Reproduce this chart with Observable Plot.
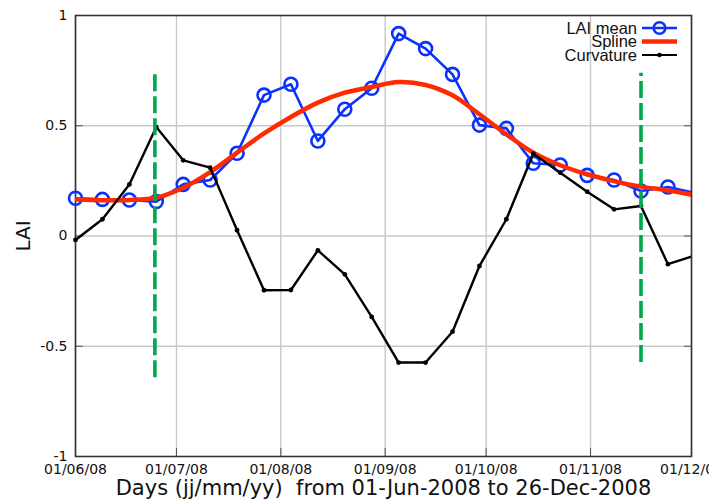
<!DOCTYPE html>
<html><head><meta charset="utf-8">
<script src="https://cdn.jsdelivr.net/npm/d3@7"></script>
<script src="https://cdn.jsdelivr.net/npm/@observablehq/plot@0.6"></script>
<style>
body{margin:0;background:#fff;}
#wrap{position:relative;width:709px;height:499px;overflow:hidden;background:#fff;}
#legend{position:absolute;left:0;top:0;pointer-events:none;}
</style></head><body><div id="wrap"></div>
<script>
// ---- data ----
const dates = ["2008-06-01","2008-06-09","2008-06-17","2008-06-25","2008-07-03","2008-07-11","2008-07-19","2008-07-27",
  "2008-08-04","2008-08-12","2008-08-20","2008-08-28","2008-09-05","2008-09-13","2008-09-21","2008-09-29",
  "2008-10-07","2008-10-15","2008-10-23","2008-10-31","2008-11-08","2008-11-16","2008-11-24","2008-12-02"];
const laiMean = [0.171,0.166,0.163,0.156,0.234,0.254,0.375,0.639,0.688,0.431,0.575,0.670,
  0.918,0.850,0.733,0.503,0.488,0.330,0.322,0.275,0.254,0.204,0.222,0.196];
const spline = [0.166,0.162,0.163,0.174,0.219,0.290,0.378,0.465,0.540,0.605,0.650,0.676,
  0.698,0.685,0.638,0.552,0.461,0.378,0.321,0.280,0.249,0.224,0.207,0.184];
const curvature = [-0.018,0.076,0.234,0.494,0.343,0.310,0.026,-0.246,-0.245,-0.065,-0.174,-0.367,
  -0.574,-0.574,-0.434,-0.136,0.076,0.373,0.287,0.201,0.121,0.136,-0.128,-0.089];
const eventDates = ["2008-06-24T14:00:00Z","2008-11-16T00:00:00Z"];
const eventTop = [0.744, 0.738];
const eventBottom = [-0.643, -0.574];
const monthTicks = ["2008-06-01","2008-07-01","2008-08-01","2008-09-01","2008-10-01","2008-11-01","2008-12-01"];
const yTicks = [-1, -0.5, 0, 0.5, 1];
const yInnerTicks = [-0.5, 0, 0.5];
const legendLabels = ["LAI mean", "Spline", "Curvature"];
const xLabel = "Days (jj/mm/yy)  from 01-Jun-2008 to 26-Dec-2008";
const yLabel = "LAI";

// ---- build ----
const BLUE = "#0a32ff", RED = "#ff2a00", GREEN = "#00a84a";
const rows = dates.map((d, i) => ({date: new Date(d), lai: laiMean[i], spline: spline[i], curv: curvature[i]}));
const xStart = new Date(monthTicks[0]), xEnd = new Date(monthTicks[monthTicks.length - 1]);
const inRange = rows.filter(r => r.date <= xEnd);
const events = eventDates.map((d, i) => ({date: new Date(d), y1: eventBottom[i], y2: eventTop[i]}));
const ticks = monthTicks.map(d => new Date(d));

const plot = Plot.plot({
  width: 709, height: 499,
  marginLeft: 75, marginRight: 18, marginTop: 15, marginBottom: 43,
  style: {fontFamily: "DejaVu Sans", fontSize: "14px", color: "#111", background: "white"},
  x: {type: "utc", domain: [xStart, xEnd]},
  y: {domain: [-1, 1]},
  marks: [
    Plot.gridX(ticks, {stroke: "#c8c8c8", strokeOpacity: 1, strokeWidth: 1.4}),
    Plot.gridY(yInnerTicks, {stroke: "#c8c8c8", strokeOpacity: 1, strokeWidth: 1.4}),
    Plot.axisX(ticks, {tickSize: 0, tickPadding: 8, tickFormat: d3.utcFormat("%d/%m/%y"), label: null, fill: "#111"}),
    Plot.axisX(ticks.slice(1, -1), {tickSize: -8, tickFormat: () => "", label: null, stroke: "#555"}),
    Plot.axisY(yTicks, {tickSize: 0, tickPadding: 8, tickFormat: d => String(d), label: null, fill: "#111"}),
    Plot.axisY(yInnerTicks, {tickSize: -8, tickFormat: () => "", label: null, stroke: "#555"}),
    Plot.axisY(yInnerTicks, {anchor: "right", tickSize: -8, tickFormat: () => "", label: null, stroke: "#555"}),
    Plot.frame({stroke: "#333", strokeWidth: 1.6}),
    Plot.line(rows, {x: "date", y: "lai", stroke: BLUE, strokeWidth: 2.6, clip: true}),
    Plot.dot(inRange, {x: "date", y: "lai", r: 6.5, stroke: BLUE, strokeWidth: 2.6, fill: "none"}),
    Plot.line(rows, {x: "date", y: "spline", curve: "catmull-rom", stroke: RED, strokeWidth: 4.5, clip: true}),
    Plot.line(rows, {x: "date", y: "curv", stroke: "black", strokeWidth: 2.4, clip: true}),
    Plot.dot(inRange, {x: "date", y: "curv", r: 2.4, fill: "black"}),
    Plot.ruleX(events, {x: "date", y1: "y1", y2: "y2", stroke: GREEN, strokeWidth: 3.6, strokeDasharray: "17,5"}),
    Plot.text([xLabel], {frameAnchor: "bottom", lineAnchor: "middle", textAnchor: "middle", dy: 32, fontSize: 21, fill: "#111"}),
    Plot.text([yLabel], {frameAnchor: "left", lineAnchor: "middle", textAnchor: "middle", dx: -52, rotate: -90, fontSize: 20, fill: "#111"})
  ]
});
const wrap = document.getElementById("wrap");
wrap.appendChild(plot);

// ---- legend (inside plot area, top right) ----
const lg = d3.select(wrap).append("svg").attr("id", "legend").attr("width", 709).attr("height", 499);
const rowY = [28, 41.5, 55];
const sx1 = 642, sx2 = 677, sxc = 659.5, tx = 637;
legendLabels.forEach((lab, i) => {
  lg.append("text").attr("x", tx).attr("y", rowY[i]).attr("text-anchor", "end").attr("dy", "0.35em")
    .attr("font-family", "Liberation Sans, Arial, sans-serif").attr("font-size", 16.5).attr("fill", "#111").text(lab);
});
lg.append("line").attr("x1", sx1).attr("x2", sx2).attr("y1", rowY[0]).attr("y2", rowY[0]).attr("stroke", BLUE).attr("stroke-width", 2.6);
lg.append("circle").attr("cx", sxc).attr("cy", rowY[0]).attr("r", 5.8).attr("fill", "none").attr("stroke", BLUE).attr("stroke-width", 2.6);
lg.append("line").attr("x1", sx1).attr("x2", sx2).attr("y1", rowY[1]).attr("y2", rowY[1]).attr("stroke", RED).attr("stroke-width", 4.5);
lg.append("line").attr("x1", sx1).attr("x2", sx2).attr("y1", rowY[2]).attr("y2", rowY[2]).attr("stroke", "black").attr("stroke-width", 2.2);
lg.append("circle").attr("cx", sxc).attr("cy", rowY[2]).attr("r", 2.3).attr("fill", "black");
</script></body></html>
